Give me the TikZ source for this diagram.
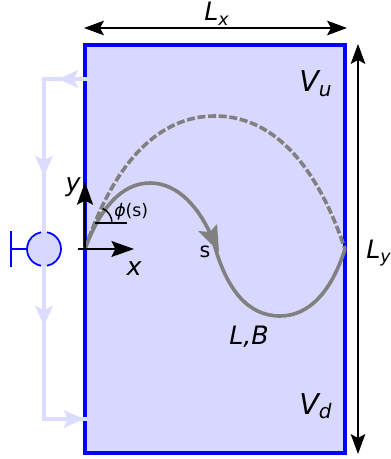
\documentclass[tikz,border=0pt]{standalone}
\usepackage{xcolor}
\usepackage{fontspec}
\setmainfont{DejaVu Sans}
\usetikzlibrary{arrows.meta,calc}
\definecolor{chamberfill}{HTML}{D8D8FF}
\definecolor{flowline}{HTML}{DCDCFF}
\definecolor{wallblue}{HTML}{0000FF}
\definecolor{ribbon}{HTML}{808080}
\newcommand{\lowsub}[2]{{\fontsize{#1}{#1}\selectfont\raisebox{-3.5pt}{#2}}}
\begin{document}
\begin{tikzpicture}[
    x=0.75pt, y=-0.75pt,
    chamber/.style={draw=wallblue, fill=chamberfill, line width=2.5pt, outer sep=0pt, inner sep=0pt},
    flow/.style={draw=flowline, line width=3pt},
    flowtip/.style={flow, -{Stealth[length=15pt, width=13pt, inset=3pt]}},
    dim/.style={draw=black, line width=0.8pt, {Stealth[length=15pt, width=11pt, inset=3pt]}-{Stealth[length=15pt, width=11pt, inset=3pt]}},
    axisarrow/.style={draw=black, -{Stealth[length=17pt, width=12pt, inset=3pt]}},
    ribbonline/.style={draw=ribbon, line width=2.7pt},
    biglabel/.style={font=\fontsize{19}{19}\selectfont\itshape, inner sep=0pt},
    vollabel/.style={font=\fontsize{21.5}{21.5}\selectfont\itshape, inner sep=0pt},
    smalllabel/.style={font=\fontsize{13}{13}\selectfont, inner sep=0pt},
    valve/.style={draw=wallblue, line width=1.3pt},
]
\useasboundingbox (0,0) rectangle (390,459);

% --- CHAMBER ---
\node[chamber, minimum width=195pt, minimum height=306pt, anchor=north west] (box) at (85,45) {};
\coordinate (o) at (85,249);
\coordinate (e) at (345,249);

% --- FLOW LOOP ---
\coordinate (vc) at (44,249);
\coordinate (tl) at (87,79);
\coordinate (cl) at (44,79);
\coordinate (bl) at (44,419);
\coordinate (br) at (87,419);
\draw[flow] (tl) -- (cl) -- (bl) -- (br);
\draw[flowtip] (80,79) -- (58,79);
\draw[flowtip] (44,150) -- (44,176);
\draw[flowtip] (44,300) -- (44,326);
\draw[flowtip] (58,419) -- (84,419);

% --- VALVE ---
\fill[chamberfill] (vc) circle[radius=17];
\draw[valve] ($(vc)+(-80:17)$) arc[start angle=-80, end angle=80, radius=17];
\draw[valve] ($(vc)+(100:17)$) arc[start angle=100, end angle=260, radius=17];
\draw[valve] (27,249) -- (11,249);
\draw[valve] (11,231) -- (11,267);

% --- RIBBON ---
\draw[ribbonline, dash pattern=on 6pt off 2pt] (o) .. controls (115,160) and (160,116) .. (215,116)
    .. controls (270,116) and (315,160) .. (e);
\draw[ribbonline] (o) .. controls (100,208) and (122,183) .. (150,183)
    .. controls (178,183) and (200,208) .. (213,240)
    .. controls (226,290) and (248,316) .. (280,316)
    .. controls (310,316) and (332,290) .. (e);
\fill[ribbon] (219,252) -- (198,231) -- (210,232) -- (217,224) -- cycle;

% --- AXES ---
\draw[axisarrow, line width=0.8pt] (78,249) -- (134,249);
\draw[axisarrow, line width=1.4pt] (o) -- (85,182);
\draw[draw=black, line width=1.2pt] (95,223) -- (127,223);
\draw[draw=black, line width=1.1pt] (112,223) arc[start angle=0, end angle=-65, radius=16];

% --- DIMENSIONS ---
\coordinate (lxa) at (84,28);
\coordinate (lxb) at (347,28);
\coordinate (lya) at (358,44);
\coordinate (lyb) at (358,454);
\draw[dim] (lxa) -- (lxb);
\draw[dim] (lya) -- (lyb);

% --- LABELS ---
\node[biglabel, anchor=base west] (lxlabel) at (204,21) {L\lowsub{13}{x}};
\node[biglabel, anchor=base west] (lylabel) at (366,258) {L\lowsub{13}{y}};
\node[vollabel, anchor=base west] (vulabel) at (299,92) {V\lowsub{15}{u}};
\node[vollabel, anchor=base west] (vdlabel) at (299,414) {V\lowsub{15}{d}};
\node[biglabel, anchor=base west] (lblabel) at (229,344) {L,B};
\node[biglabel, anchor=base] (xlabel) at (134,275) {x};
\node[biglabel, anchor=base] (ylabel) at (73,192) {y};
\node[smalllabel, anchor=base west] (philabel) at (114,216) {\textit{ϕ}(s)};
\node[smalllabel, font=\fontsize{15.5}{15.5}\selectfont, anchor=base] (slabel) at (205,257) {s};
\end{tikzpicture}
\end{document}
